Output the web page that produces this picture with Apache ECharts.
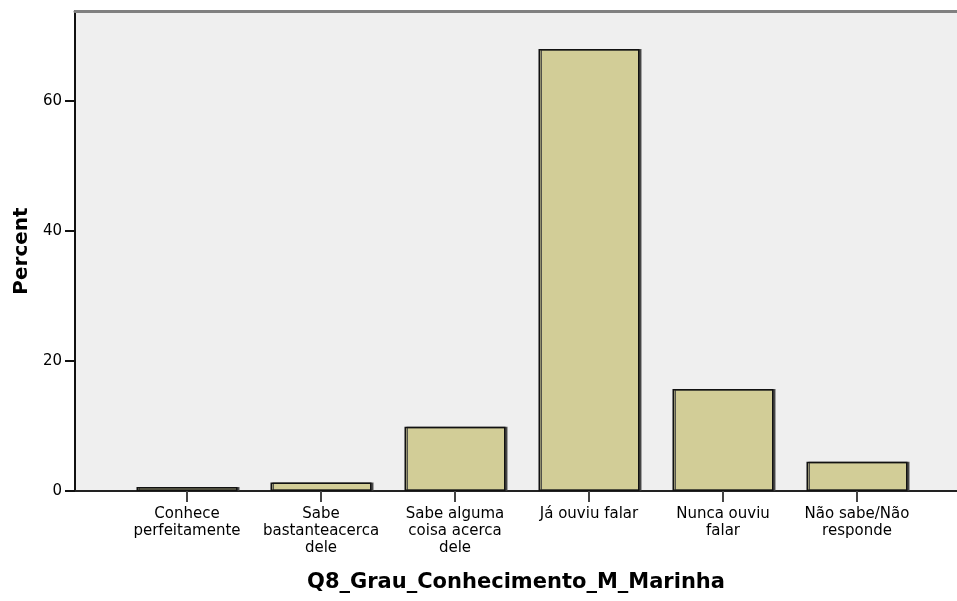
<!DOCTYPE html>
<html>
<head>
<meta charset="utf-8">
<script src="https://cdn.jsdelivr.net/npm/echarts@6/dist/echarts.min.js"></script>
<style>html,body{margin:0;padding:0;background:#fff}#c{width:957px;height:601px}</style>
</head>
<body>
<div id="c"></div>
<script>
var categories = ["Conhece\nperfeitamente", "Sabe\nbastanteacerca\ndele", "Sabe alguma\ncoisa acerca\ndele", "Já ouviu falar", "Nunca ouviu\nfalar", "Não sabe/Não\nresponde"];
var percentValues = [0.6, 1.3, 9.9, 68.0, 15.7, 4.5];
var yTicks = [0, 20, 40, 60];
var yMax = 73.85;
var xTitle = "Q8_Grau_Conhecimento_M_Marinha";
var yTitle = "Percent";

var font = "'DejaVu Sans', Verdana, sans-serif";
var chart = echarts.init(document.getElementById('c'), null, {renderer: 'canvas'});
chart.setOption({
  animation: false,
  grid: [
    {left: 75, right: 0, top: 11, bottom: 110, show: true, backgroundColor: '#efefef', borderWidth: 0, outerBoundsMode: 'none', containLabel: false},
    {left: 120, right: 33, top: 11, bottom: 110, outerBoundsMode: 'none', containLabel: false}
  ],
  xAxis: [
    {gridIndex: 0, type: 'value', min: 0, max: 1, position: 'bottom',
     axisLine: {show: true, onZero: false, lineStyle: {color: '#222', width: 2}},
     axisTick: {show: false}, axisLabel: {show: false}, splitLine: {show: false},
     name: xTitle, nameLocation: 'middle', nameGap: 81,
     nameTextStyle: {fontFamily: font, fontSize: 21, fontWeight: 'bold', color: '#000'}},
    {gridIndex: 0, type: 'value', min: 0, max: 1, position: 'top',
     axisLine: {show: true, onZero: false, lineStyle: {color: '#808080', width: 3}},
     axisTick: {show: false}, axisLabel: {show: false}, splitLine: {show: false}},
    {gridIndex: 1, type: 'category', data: categories, position: 'bottom',
     axisLine: {show: false, onZero: false},
     axisTick: {show: true, alignWithLabel: true, length: 11, lineStyle: {color: '#444', width: 2}},
     axisLabel: {fontFamily: font, fontSize: 15, color: '#000', margin: 15, lineHeight: 17, interval: 0},
     splitLine: {show: false}}
  ],
  yAxis: [
    {gridIndex: 0, type: 'value', min: 0, max: yMax, interval: 20,
     axisLine: {show: true, lineStyle: {color: '#111', width: 2}},
     axisTick: {show: true, length: 10, lineStyle: {color: '#111', width: 2},
       customValues: yTicks},
     axisLabel: {fontFamily: font, fontSize: 15, color: '#000', margin: 13,
       customValues: yTicks},
     splitLine: {show: false},
     name: yTitle, nameLocation: 'middle', nameGap: 39, nameRotate: 90,
     nameTextStyle: {fontFamily: font, fontSize: 20, fontWeight: 'bold', color: '#000'}},
    {gridIndex: 1, type: 'value', min: 0, max: yMax, show: false, splitLine: {show: false}}
  ],
  series: [{
    type: 'bar', xAxisIndex: 2, yAxisIndex: 1, data: percentValues, barWidth: 101,
    itemStyle: {color: '#d2cd97', borderColor: '#111', borderWidth: 1.5,
      shadowColor: 'rgba(60,60,60,0.85)', shadowOffsetX: 2, shadowOffsetY: 0, shadowBlur: 0},
    z: 1
  }]
});
</script>
</body>
</html>
